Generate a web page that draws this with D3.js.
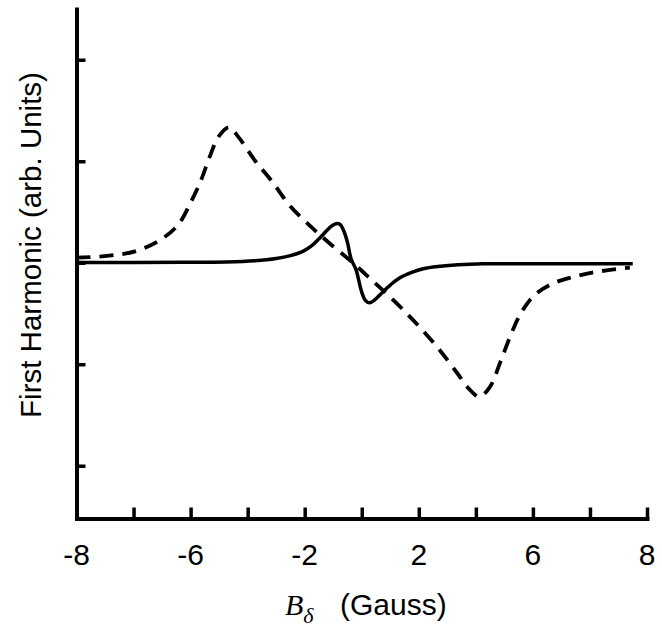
<!DOCTYPE html>
<html>
<head>
<meta charset="utf-8">
<script src="https://cdn.jsdelivr.net/npm/d3@7"></script>
<style>
    body { margin: 0; background: #fff; }
    svg { display: block; }
</style>
</head>
<body>
<div id="chart"></div>
<script>
// solid curve (narrow derivative line)
const solidX = [-8, -5, -3.8, -3, -2.4, -2, -1.65, -1.4, -1.2, -1.0, -0.85, -0.72, -0.6, -0.5, -0.4, -0.3, -0.16, 0, 0.1, 0.22, 0.35, 0.6, 0.8, 1.07, 1.4, 1.72, 2.2, 2.7, 3.4, 5, 7.6];
const solidY = [0.003, 0.004, 0.008, 0.02, 0.042, 0.07, 0.112, 0.168, 0.235, 0.31, 0.36, 0.385, 0.375, 0.31, 0.2, 0.04, -0.07, -0.29, -0.37, -0.395, -0.37, -0.286, -0.22, -0.148, -0.095, -0.059, -0.035, -0.02, -0.01, -0.01, -0.01];

// dashed curve (broad derivative line)
const dashedX = [-8, -7.09, -6.33, -5.69, -5.15, -4.79, -4.51, -4.28, -4.0, -3.72, -3.44, -2.97, -2.49, -2.04, -1.48, -0.92, -0.25, 0.03, 1.16, 2.11, 2.67, 3.0, 3.3, 3.6, 3.88, 4.16, 4.44, 4.8, 5.28, 5.84, 6.6, 7.52];
const dashedY = [0.049, 0.069, 0.115, 0.215, 0.374, 0.6, 0.81, 1.03, 1.25, 1.335, 1.23, 0.995, 0.79, 0.571, 0.374, 0.197, 0.0, -0.089, -0.463, -0.828, -1.084, -1.24, -1.32, -1.22, -0.985, -0.729, -0.512, -0.335, -0.217, -0.148, -0.089, -0.049];

const xTickValues = d3.range(11).map(i => -8 + 1.6 * i);
const xTickLabels = ["-8", "", "-6", "", "-2", "", "2", "", "6", "", "8"];
const yTickValues = [-2, -1, 0, 1, 2];

const width = 662,
    height = 637;

const svg = d3.select("#chart").append("svg")
    .attr("width", width)
    .attr("height", height);

const xScale = d3.scaleLinear()
    .domain([-8, 8])
    .range([76.5, 647]);

const yScale = d3.scaleLinear()
    .domain([-2.52, 2.5])
    .range([518.5, 9]);

const xAxis = d3.axisTop(xScale)
    .tickValues(xTickValues)
    .tickSize(11)
    .tickSizeOuter(0)
    .tickFormat("");

const gXAxis = svg.append("g")
    .attr("transform", `translate(0,${yScale(-2.52)})`)
    .call(xAxis);

const yAxis = d3.axisRight(yScale)
    .tickValues(yTickValues)
    .tickSize(9)
    .tickSizeOuter(0)
    .tickFormat("");

const gYAxis = svg.append("g")
    .attr("transform", `translate(${xScale(-8)},0)`)
    .call(yAxis);

[gXAxis, gYAxis].forEach(g => {
    g.select(".domain")
        .attr("stroke", "#000")
        .attr("stroke-width", 4)
        .attr("stroke-linecap", "square");
    g.selectAll(".tick line")
        .attr("stroke", "#000")
        .attr("stroke-width", 3.5);
});

// tick labels sit below the axis line
svg.append("g")
    .selectAll("text")
    .data(xTickValues)
    .enter().append("text")
    .attr("x", d => xScale(d))
    .attr("y", 565)
    .attr("text-anchor", "middle")
    .attr("font-family", "Liberation Sans, Arial, sans-serif")
    .attr("font-size", 30)
    .text((d, i) => xTickLabels[i]);

const line = d3.line()
    .x(d => xScale(d[0]))
    .y(d => yScale(d[1]))
    .curve(d3.curveCatmullRom.alpha(0.5));

svg.append("path")
    .datum(solidX.map((x, i) => [x, solidY[i]]))
    .attr("d", line)
    .attr("fill", "none")
    .attr("stroke", "#000")
    .attr("stroke-width", 3.5);

svg.append("path")
    .datum(dashedX.map((x, i) => [x, dashedY[i]]))
    .attr("d", line)
    .attr("fill", "none")
    .attr("stroke", "#000")
    .attr("stroke-width", 3.8)
    .attr("stroke-dasharray", "14,9");

const xTitle = svg.append("text")
    .attr("x", 285)
    .attr("y", 615)
    .attr("font-family", "Liberation Serif, Times New Roman, serif")
    .attr("font-style", "italic")
    .attr("font-size", 30);
xTitle.append("tspan").text("B");
xTitle.append("tspan")
    .attr("font-size", 22)
    .attr("dy", 8)
    .text("δ");

svg.append("text")
    .attr("x", 340)
    .attr("y", 615)
    .attr("font-family", "Liberation Sans, Arial, sans-serif")
    .attr("font-size", 30)
    .text("(Gauss)");

svg.append("text")
    .attr("transform", "translate(41,245) rotate(-90)")
    .attr("text-anchor", "middle")
    .attr("font-family", "Liberation Sans, Arial, sans-serif")
    .attr("font-size", 29.5)
    .text("First Harmonic (arb. Units)");
</script>
</body>
</html>
